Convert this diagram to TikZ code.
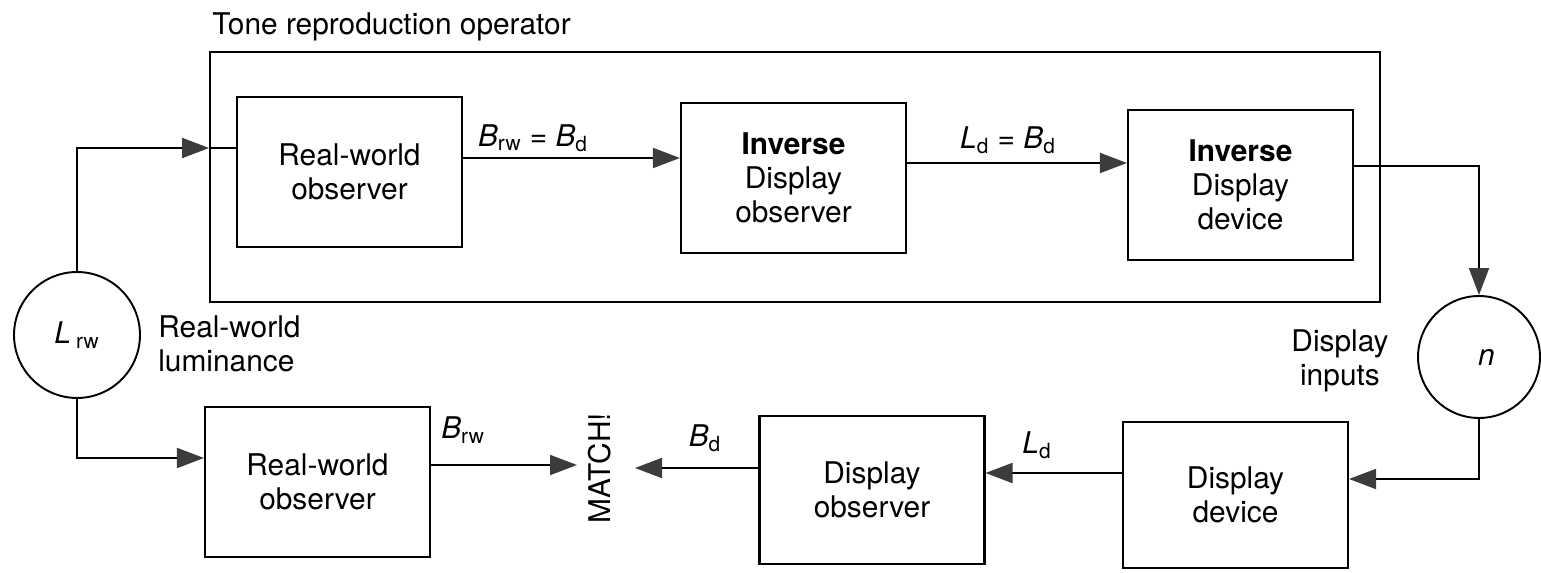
\documentclass[tikz,border=0pt]{standalone}
\usepackage{fontspec}
\setmainfont{TeX Gyre Heros}
\usetikzlibrary{arrows.meta}
\definecolor{tipgray}{HTML}{3C3C3C}
\begin{document}
\begin{tikzpicture}[x=0.02cm,y=-0.02cm,
  every node/.style={font=\fontsize{17}{19.5}\selectfont, inner sep=0pt},
  box/.style={draw, line width=1.2pt, minimum width=4.5cm, minimum height=3cm, align=center},
  circ/.style={draw, circle, line width=1.1pt},
  conn/.style={line width=1.1pt},
  arr/.style={conn, -{Triangle[length=0.54cm,width=0.4cm,color=tipgray]}}]
\useasboundingbox[fill=white] (0,0) rectangle (1541,573);
% title and operator frame
\node[anchor=west] (title) at (212,27) {Tone reproduction operator};
\node[draw, line width=1.2pt, minimum width=23.4cm, minimum height=5cm] (tro) at (795,177) {};
% top row
\node[box] (b1) at (349.5,172) {Real-world\\observer};
\node[box] (b2) at (793.5,178) {\textbf{Inverse}\\Display\\observer};
\node[box] (b3) at (1240.5,185) {\textbf{Inverse}\\Display\\device};
% circles
\node[circ, minimum size=2.52cm] (lrw) at (77,335) {\textit{L}\,\textsubscript{rw}};
\node[circ, minimum size=2.44cm] (n) at (1479,357) {\hspace*{0.3cm}\textit{n}};
% side labels
\node[anchor=west, align=left] (rwl) at (158,344) {Real-world\\luminance};
\node[align=center] (dil) at (1340,361) {Display\\inputs};
% bottom row
\node[box] (r2) at (317.5,482) {Real-world\\observer};
\node[box, minimum height=2.96cm] (dobs) at (872,490) {Display\\observer};
\node[box, minimum height=2.92cm] (ddev) at (1235.5,495) {Display\\device};
\node[rotate=90] (match) at (600,468) {MATCH!};
\coordinate (mL) at (577,465);
\coordinate (mR) at (635,468);
% connector labels
\node (l1) at (533,138) {\textit{B}\textsubscript{rw} = \textit{B}\textsubscript{d}};
\node (l2) at (1008,140) {\textit{L}\textsubscript{d} = \textit{B}\textsubscript{d}};
\node (l3) at (463,430) {\textit{B}\textsubscript{rw}};
\node (l4) at (705,438) {\textit{B}\textsubscript{d}};
\node (l5) at (1037,445) {\textit{L}\textsubscript{d}};
% connectors
\draw[arr] (lrw.north) |- (tro.west |- 0,148);
\draw[conn] (tro.west |- 0,148) -- (b1.west |- 0,148);
\draw[arr] (b1.east |- 0,158) -- (b2.west |- 0,158);
\draw[arr] (b2.east |- 0,163) -- (b3.west |- 0,163);
\draw[arr] (b3.east |- 0,166) -| (n.north);
\draw[arr] (n.south) |- (ddev.east |- 0,479);
\draw[arr] (ddev.west |- 0,473) -- (dobs.east |- 0,473);
\draw[arr] (dobs.west |- 0,468) -- (mR);
\draw[arr] (r2.east |- 0,465) -- (mL);
\draw[arr] (lrw.south) |- (r2.west |- 0,458);
\end{tikzpicture}
\end{document}
